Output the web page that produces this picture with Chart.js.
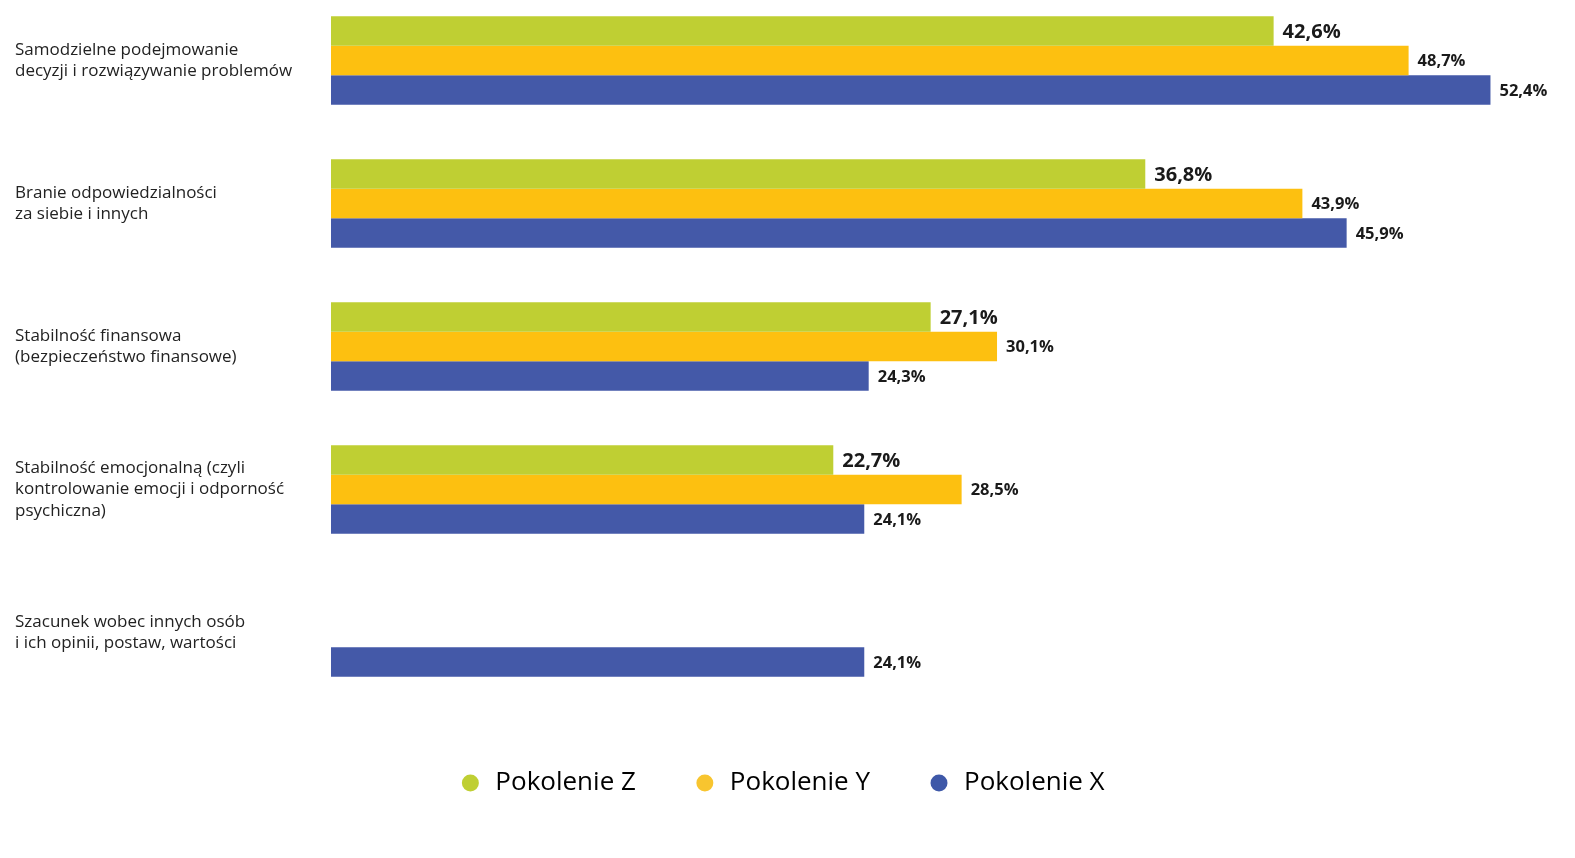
<!DOCTYPE html>
<html lang="pl">
<head>
<meta charset="utf-8">
<script src="https://cdn.jsdelivr.net/npm/chart.js@4"></script>
<style>
  html, body { margin: 0; padding: 0; background: #fff; overflow: hidden; }
  #wrap { position: absolute; left: 0; top: -11px; width: 1575px; height: 869px; }
</style>
</head>
<body>
<div id="wrap"><canvas id="wykres"></canvas></div>
<script>
// ===== Dane =====
const kategorie = [
  ["Samodzielne podejmowanie", "decyzji i rozwiązywanie problemów"],
  ["Branie odpowiedzialności", "za siebie i innych"],
  ["Stabilność finansowa", "(bezpieczeństwo finansowe)"],
  ["Stabilność emocjonalną (czyli", "kontrolowanie emocji i odporność", "psychiczna)"],
  ["Szacunek wobec innych osób", "i ich opinii, postaw, wartości"]
];
const pokolenieZ = [42.6, 36.8, 27.1, 22.7, null];
const pokolenieY = [48.7, 43.9, 30.1, 28.5, null];
const pokolenieX = [52.4, 45.9, 24.3, 24.1, 24.1];
const serie = ["Pokolenie Z", "Pokolenie Y", "Pokolenie X"];

const kolory = ["#bfcf33", "#fdc010", "#4459a8"];
const koloryLegendy = ["#bfcf33", "#f8c52f", "#3e58a8"];

// ===== Etykiety wartości =====
const etykietyWartosci = {
  id: "etykietyWartosci",
  afterDatasetsDraw(chart) {
    const ctx = chart.ctx;
    ctx.save();
    ctx.textBaseline = "middle";
    ctx.textAlign = "left";
    ctx.fillStyle = "#1a1a1a";
    chart.data.datasets.forEach((ds, i) => {
      const meta = chart.getDatasetMeta(i);
      ctx.font = (i === 0 ? "bold 20px" : "bold 16.5px") + " 'Open Sans'";
      meta.data.forEach((bar, j) => {
        const v = ds.data[j];
        if (v === null) return;
        const tekst = v.toFixed(1).replace(".", ",") + "%";
        ctx.fillText(tekst, bar.x + 9, bar.y + 1);
      });
    });
    ctx.restore();
  }
};

// ===== Wykres =====
new Chart(document.getElementById("wykres"), {
  type: "bar",
  data: {
    labels: kategorie,
    datasets: [
      { label: serie[0], data: pokolenieZ, backgroundColor: kolory[0] },
      { label: serie[1], data: pokolenieY, backgroundColor: kolory[1] },
      { label: serie[2], data: pokolenieX, backgroundColor: kolory[2] }
    ]
  },
  options: {
    indexAxis: "y",
    responsive: true,
    maintainAspectRatio: false,
    animation: false,
    categoryPercentage: 0.618,
    barPercentage: 1,
    layout: { padding: { left: 15, right: 27, top: 0, bottom: 52 } },
    scales: {
      x: {
        min: 0,
        max: 55,
        ticks: { display: false },
        grid: { display: false },
        border: { display: false },
        afterFit(scale) { scale.height = 9; }
      },
      y: {
        grid: { display: false },
        border: { display: false },
        ticks: {
          crossAlign: "far",
          color: "#222",
          font: { family: "'Open Sans'", size: 17, lineHeight: 1.25 }
        },
        afterFit(scale) {
          scale.width = 316;
          scale.paddingTop = 0;
          scale.paddingBottom = 0;
        }
      }
    },
    plugins: {
      tooltip: { enabled: false },
      legend: {
        position: "bottom",
        labels: {
          usePointStyle: true,
          pointStyle: "circle",
          boxWidth: 24,
          boxHeight: 12,
          padding: 57,
          color: "#1a1a1a",
          font: { family: "'Open Sans'", size: 26 },
          generateLabels(chart) {
            return chart.data.datasets.map((ds, i) => ({
              text: ds.label,
              fillStyle: koloryLegendy[i],
              strokeStyle: koloryLegendy[i],
              lineWidth: 0,
              pointStyle: "circle",
              datasetIndex: i
            }));
          }
        }
      }
    }
  },
  plugins: [etykietyWartosci]
});
</script>
</body>
</html>
